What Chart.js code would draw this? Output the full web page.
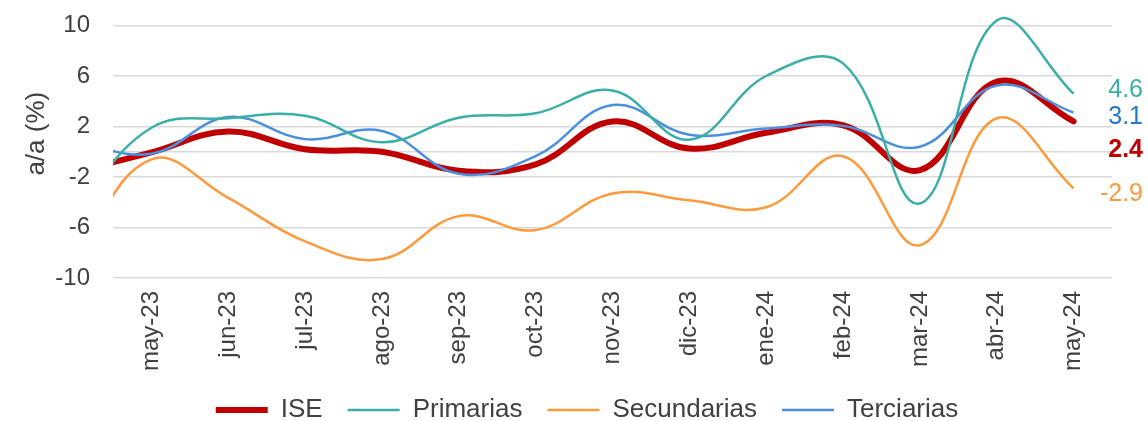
<!DOCTYPE html>
<html>
<head>
<meta charset="utf-8">
<script src="https://cdn.jsdelivr.net/npm/chart.js@4.4.1/dist/chart.umd.min.js"></script>
<style>
  html, body { margin: 0; padding: 0; background: #fff; }
</style>
</head>
<body>
<canvas id="grafica" width="1148" height="421"></canvas>
<script>
// Meses; abr-23 solo da el arranque de las curvas, queda fuera del eje
const meses = ['abr-23', 'may-23', 'jun-23', 'jul-23', 'ago-23', 'sep-23', 'oct-23', 'nov-23',
               'dic-23', 'ene-24', 'feb-24', 'mar-24', 'abr-24', 'may-24'];

// Variación anual (%)
const ise         = [-1.6, -0.05, 1.6, 0.2, 0.0, -1.5, -1.0, 2.4, 0.25, 1.5, 2.1, -1.45, 5.55, 2.4];
const primarias   = [-4.7, 1.9, 2.65, 2.85, 0.75, 2.7, 3.05, 4.85, 0.95, 6.0, 7.0, -4.1, 10.4, 4.6];
const secundarias = [-8.3, -0.6, -3.65, -7.1, -8.5, -5.1, -6.2, -3.3, -3.85, -4.4, -0.35, -7.4, 2.65, -2.9];
const terciarias  = [0.8, -0.15, 2.75, 1.0, 1.65, -1.75, -0.35, 3.7, 1.35, 1.85, 2.05, 0.4, 5.25, 3.1];

const marcasY = [-10, -6, -2, 2, 6, 10];

const fuente = '"Liberation Sans", Arial, sans-serif';
const gris = '#404040';

// Etiquetas con el último dato a la derecha
const valoresFinales = {
    id: 'valoresFinales',
    afterDatasetsDraw(chart) {
        const ctx = chart.ctx;
        ctx.save();
        ctx.textAlign = 'right';
        ctx.textBaseline = 'middle';
        chart.data.datasets.forEach((ds, i) => {
            const meta = chart.getDatasetMeta(i);
            const punto = meta.data[meta.data.length - 1];
            const valor = ds.data[ds.data.length - 1];
            ctx.font = (ds.etiquetaNegrita ? 'bold ' : '') + '25px ' + fuente;
            ctx.fillStyle = ds.etiquetaColor;
            ctx.fillText(valor.toFixed(1), chart.width - 5, punto.y + ds.etiquetaDy);
        });
        ctx.restore();
    }
};

// La leyenda de Excel queda un poco corrida a la derecha
const moverLeyenda = {
    id: 'moverLeyenda',
    afterLayout(chart) {
        chart.legend.left += 31;
        chart.legend.right += 31;
    }
};

function serie(nombre, datos, color, grosor, extra) {
    return Object.assign({
        label: nombre,
        data: datos,
        borderColor: color,
        backgroundColor: color,
        borderWidth: grosor,
        pointRadius: 0,
        tension: 0.4,
        capBezierPoints: false,
        clip: {left: 0, top: false, right: false, bottom: false},
        etiquetaColor: color,
        etiquetaDy: 0
    }, extra);
}

new Chart(document.getElementById('grafica'), {
    type: 'line',
    data: {
        labels: meses,
        datasets: [
            serie('ISE', ise, '#C00000', 6, {order: 1, borderCapStyle: 'round', etiquetaNegrita: true, etiquetaDy: 29}),
            serie('Primarias', primarias, '#3AAFA9', 2.5, {etiquetaDy: -4}),
            serie('Secundarias', secundarias, '#FF9A3C', 2.5, {etiquetaDy: 6}),
            serie('Terciarias', terciarias, '#4A8FE0', 2.5, {etiquetaColor: '#1F78D1', etiquetaDy: 4})
        ]
    },
    options: {
        responsive: false,
        animation: false,
        events: [],
        layout: { padding: {top: 25.5, right: 36, bottom: 0, left: 0} },
        scales: {
            x: {
                min: 'may-23',
                offset: true,
                grid: { display: false, drawTicks: false },
                border: { display: false },
                ticks: {
                    minRotation: 90, maxRotation: 90, autoSkip: false,
                    padding: 13,
                    color: gris,
                    font: { family: fuente, size: 24 }
                },
                afterFit: s => { s.height = 94; }
            },
            y: {
                min: -10, max: 10,
                ticks: {
                    stepSize: 4,
                    padding: 23,
                    color: gris,
                    font: { family: fuente, size: 24 },
                    callback: v => v === 0 ? '' : v
                },
                // se agrega la línea del 0 sin etiqueta
                afterBuildTicks: s => {
                    s.ticks = marcasY.concat([0]).sort((a, b) => a - b).map(v => ({value: v}));
                },
                grid: { color: '#d9d9d9', lineWidth: 1.5, drawTicks: false },
                border: { display: false },
                title: {
                    display: true,
                    text: '     a/a (%)',
                    color: gris,
                    font: { family: fuente, size: 26 },
                    padding: { top: 21, bottom: 0 }
                },
                afterFit: s => {
                    s.width = 113;
                    s.paddingTop = 0;
                    s.paddingBottom = 0;
                }
            }
        },
        plugins: {
            tooltip: { enabled: false },
            legend: {
                position: 'bottom',
                maxHeight: 49,
                labels: {
                    usePointStyle: true,
                    pointStyle: 'line',
                    pointStyleWidth: 52,
                    padding: 25,
                    color: gris,
                    font: { family: fuente, size: 26 },
                    sort: (a, b) => a.datasetIndex - b.datasetIndex
                }
            }
        }
    },
    plugins: [valoresFinales, moverLeyenda]
});
</script>
</body>
</html>
